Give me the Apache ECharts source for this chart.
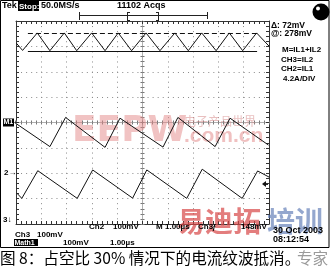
<!DOCTYPE html>
<html><head><meta charset="utf-8">
<script src="https://cdn.jsdelivr.net/npm/echarts@6/dist/echarts.min.js"></script>
<style>html,body{margin:0;padding:0;background:#fff}#c{width:330px;height:267px}</style>
</head><body><div id="c"></div>
<script>
// Horizontal: time in µs (1.00 µs/div, 10 div). Vertical: screen divisions (8 div).
const timeRange = [-5, 5];
const divRange = [-4, 4];

// Top trace: Math M = IL1 + IL2 (small ripple at twice the frequency)
const sumTime = [-4.98,-4.74,-4.16,-3.66,-3.09,-2.60,-2.01,-1.48,-0.96,-0.43,0.14,0.69,1.28,1.81,2.34,2.91,3.43,3.96,4.51,5.00];
const sumDiv  = [ 3.12, 2.84, 3.53, 2.83, 3.53, 2.83, 3.53, 2.83, 3.53, 2.83,3.53,2.83,3.53,2.83,3.53,2.83,3.53,2.83,3.53,3.01];

// Middle trace
const midTime = [-4.97,-3.66,-3.04,-1.48,-0.89,0.81,1.40,2.87,3.46,4.98];
const midDiv  = [-0.06,-0.95, 0.20,-0.98, 0.17,-0.97,0.20,-0.95,0.17,-0.89];

// Lower trace
const lowTime = [-4.97,-4.77,-4.14,-2.58,-1.97,-0.39,0.17,1.75,2.36,3.94,4.55,5.00];
const lowDiv  = [-2.78,-2.99,-1.90,-2.99,-1.87,-2.98,-1.87,-2.99,-1.84,-2.99,-1.91,-2.15];

// Cursors (Δ: 72mV, @: 278mV)
const cursorDashed = 3.53;
const cursorSolid = 2.82;
const cursorSpan = [-4.53, 4.53];

// Channel ground markers and trigger level (divisions)
const markerM = 0;
const marker2 = -2;
const marker3 = -3.85;
const triggerLevel = -2.42;

const pairs = (t, v) => t.map((x, i) => [x, v[i]]);

const chart = echarts.init(document.getElementById('c'), null, {renderer: 'canvas'});
const border = '#333';
const dot = '#8a8a8a';
const FONT = '"Liberation Sans", Arial, sans-serif';

function edgeAxis(pos, split) {
  return {
    type: 'value', min: pos === 'left' || pos === 'right' ? divRange[0] : timeRange[0],
    max: pos === 'left' || pos === 'right' ? divRange[1] : timeRange[1],
    interval: 1, position: pos,
    axisLine: {show: true, onZero: false, lineStyle: {color: border, width: 1}},
    axisTick: {show: true, inside: true, length: 3, lineStyle: {color: border}},
    minorTick: {show: true, splitNumber: 5, length: 3, lineStyle: {color: border}},
    axisLabel: {show: false},
    splitLine: {show: split, lineStyle: {color: dot, width: 1, type: [1, 4.06]}},
    minorSplitLine: {show: false}
  };
}
function centerAxis(pos, inside, isY) {
  return {
    type: 'value', min: isY ? divRange[0] : timeRange[0], max: isY ? divRange[1] : timeRange[1],
    interval: 1, position: pos,
    axisLine: {show: true, onZero: true, onZeroAxisIndex: 0, lineStyle: {color: '#b0b0b0', width: 1}},
    axisTick: {show: true, inside: inside, length: 2, lineStyle: {color: '#777'}},
    minorTick: {show: true, splitNumber: 5, length: 2, lineStyle: {color: '#777'}},
    axisLabel: {show: false}, splitLine: {show: false}
  };
}

const traceStyle = {color: '#111', width: 1};

chart.setOption({
  animation: false,
  backgroundColor: '#fff',
  grid: {left: 16, top: 21, width: 253, height: 203, show: false},
  xAxis: [edgeAxis('bottom', true), edgeAxis('top', false), centerAxis('bottom', true, false), centerAxis('bottom', false, false)],
  yAxis: [edgeAxis('left', true), edgeAxis('right', false), centerAxis('left', true, true), centerAxis('left', false, true)],
  series: [
    {type: 'line', name: 'M=IL1+IL2', data: pairs(sumTime, sumDiv), showSymbol: false, symbol: 'none',
     lineStyle: traceStyle, z: 5,
     markLine: {silent: true, symbol: 'none', label: {show: false},
       data: [
         [{coord: [cursorSpan[0], cursorDashed], lineStyle: {type: [5, 3], color: '#111', width: 1}},
          {coord: [cursorSpan[1], cursorDashed]}],
         [{coord: [cursorSpan[0], cursorSolid], lineStyle: {type: 'solid', color: '#111', width: 1}},
          {coord: [cursorSpan[1], cursorSolid]}]
       ]}},
    {type: 'line', name: 'mid', data: pairs(midTime, midDiv), showSymbol: false, symbol: 'none', lineStyle: traceStyle, z: 5},
    {type: 'line', name: 'low', data: pairs(lowTime, lowDiv), showSymbol: false, symbol: 'none', lineStyle: traceStyle, z: 5}
  ]
});

const px = (t, v) => chart.convertToPixel({xAxisIndex: 0, yAxisIndex: 0}, [t, v]);
const pM = px(timeRange[0], markerM), p2 = px(timeRange[0], marker2), p3 = px(timeRange[0], marker3);
const pT = px(timeRange[1], triggerLevel);

function txt(text, x, y, size, opts) {
  opts = opts || {};
  return {type: 'text', x: x, y: y, z: opts.z || 100, silent: true,
    style: {text: text, fill: opts.fill || '#000', font: (opts.weight || 'normal') + ' ' + size + 'px ' + (opts.family || FONT),
      verticalAlign: 'middle', align: opts.align || 'left', opacity: opts.opacity == null ? 1 : opts.opacity}};
}
function line(x1, y1, x2, y2, color) {
  return {type: 'line', z: 100, silent: true, shape: {x1: x1, y1: y1, x2: x2, y2: y2}, style: {stroke: color || '#222', lineWidth: 1}};
}
function box(x, y, w, h) {
  return {type: 'rect', z: 99, silent: true, shape: {x: x, y: y, width: w, height: h}, style: {fill: '#000'}};
}
const B = {weight: 'bold'};

const g = [
  // watermarks
  txt('EEPW', 72, 132, 36, {weight: 'bold', fill: 'rgb(228,135,135)', opacity: 0.5, z: 1, family: '"DejaVu Sans", sans-serif'}),
  txt('电子产品世界', 184, 121, 12, {fill: 'rgb(215,140,140)', opacity: 0.55, z: 1, family: '"Noto Sans CJK SC"'}),
  txt('.com.cn', 184, 136, 21, {weight: 'bold', fill: 'rgb(225,130,130)', opacity: 0.5, z: 1}),
  txt('易迪拓', 177, 221, 28, {weight: 'bold', fill: 'rgb(215,70,70)', opacity: 0.7, z: 1, family: '"Noto Sans CJK SC"'}),
  txt('培训', 267, 221, 28, {weight: 'bold', fill: 'rgb(90,120,180)', opacity: 0.65, z: 1, family: '"Noto Sans CJK SC"'}),
  // frame
  {type: 'rect', z: 100, silent: true, shape: {x: 0.5, y: 0.5, width: 328.5, height: 247}, style: {fill: 'none', stroke: '#000', lineWidth: 1}},
  // header
  txt('Tek', 2, 6, 9, B),
  box(18, 1, 21, 10),
  txt('Stop:', 19, 6.5, 8, {fill: '#fff', weight: 'bold'}),
  txt('50.0MS/s', 41, 6, 9, B),
  txt('11102 Acqs', 117, 6, 9, B),
  line(79, 15.5, 207, 15.5), line(79.5, 12, 79.5, 20), line(207.5, 12, 207.5, 19),
  line(127.5, 12, 127.5, 21), line(127.5, 12.5, 130, 12.5), line(127.5, 20.5, 130, 20.5),
  line(158.5, 12, 158.5, 21), line(156, 12.5, 158.5, 12.5), line(156, 20.5, 158.5, 20.5),
  // ball
  {type: 'circle', z: 100, silent: true, shape: {cx: 321, cy: 12, r: 8.5}, style: {fill: '#000'}},
  {type: 'circle', z: 101, silent: true, shape: {cx: 318, cy: 8.5, r: 2}, style: {fill: '#fff'}},
  // right panel
  txt('Δ: 72mV', 271, 26, 8.5, B),
  txt('@: 278mV', 271, 34, 8.5, B),
  txt('M=IL1+IL2', 282, 49.5, 8, B),
  txt('CH3=IL2', 281, 59.5, 8, B),
  txt('CH2=IL1', 281, 68.5, 8, B),
  txt('4.2A/DIV', 283, 78.5, 8, B),
  // channel markers
  box(3, pM[1] - 4, 11, 8),
  txt('M1', 3.5, pM[1], 7, {fill: '#fff', weight: 'bold'}),
  txt('+', 13, pM[1], 8),
  txt('2→', 4, p2[1], 8, B),
  txt('3↓', 3, p3[1], 8, B),
  {type: 'polygon', z: 100, silent: true, shape: {points: [[pT[0] - 7, pT[1]], [pT[0] - 3, pT[1] - 3], [pT[0] - 3, pT[1] + 3]]}, style: {fill: '#111'}},
  line(pT[0] - 3, pT[1] + 0.5, pT[0] - 1, pT[1] + 0.5, '#111'),
  // bottom readouts
  txt('Ch2', 89, 227, 8, B), txt('100mV', 113, 227, 8, B), txt('M', 156, 227, 8, B), txt('1.00µs', 165, 227, 8, B),
  txt('Ch3', 198, 227, 8, B), txt('ƒ', 212, 227, 8, B), txt('148mV', 241, 227, 8, B),
  txt('30 Oct 2003', 273, 231, 9, B), txt('08:12:54', 273, 240, 9, B),
  txt('Ch3', 15, 235, 8, B), txt('100mV', 37, 235, 8, B),
  box(14, 239, 24, 7), txt('Math1', 14.5, 242.7, 7, {fill: '#fff', weight: 'bold'}),
  txt('100mV', 63, 243, 8, B), txt('1.00µs', 110, 243, 8, B),
  // caption
  txt('图 8：占空比 30% 情况下的电流纹波抵消。', 0, 258, 15.6, {family: '"Noto Sans CJK SC"'}),
  txt('专家', 297, 258, 15.6, {family: '"Noto Sans CJK SC"', fill: '#9a9a9a'})
];
chart.setOption({graphic: g});
</script></body></html>
